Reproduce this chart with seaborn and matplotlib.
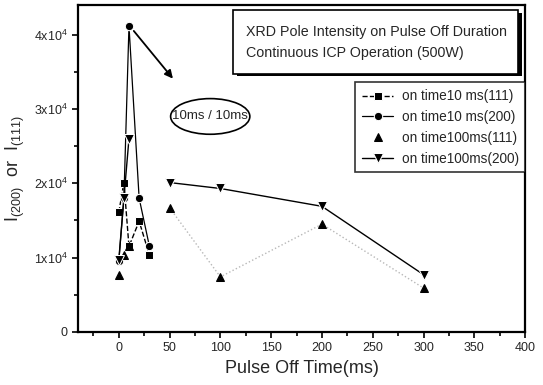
import matplotlib
matplotlib.use('Agg')
import matplotlib.pyplot as plt
import pandas as pd
import seaborn as sns
from matplotlib.patches import Ellipse, Rectangle

# pulse off time (ms) and pole intensities
off_10_111 = [0, 5, 10, 20, 30]
int_10_111 = [16100, 20100, 11500, 14900, 10400]

off_10_200 = [0, 5, 10, 20, 30]
int_10_200 = [9500, 18000, 41200, 18000, 11600]

# 100 ms on-time: short-off part and long-off part (drawn as two pieces)
off_100_111_a = [0, 5, 10]
int_100_111_a = [7700, 10400, 11500]
off_100_111_b = [50, 100, 200, 300]
int_100_111_b = [16700, 7400, 14500, 5900]

off_100_200_a = [0, 5, 10]
int_100_200_a = [9700, 18000, 26000]
off_100_200_b = [50, 100, 200, 300]
int_100_200_b = [20100, 19300, 16900, 7700]

labels = ['on time10 ms(111)', 'on time10 ms(200)',
          'on time100ms(111)', 'on time100ms(200)']
x_ticks = [0, 50, 100, 150, 200, 250, 300, 350, 400]
y_ticks = [0, 10000, 20000, 30000, 40000]
y_ticklabels = ['0', r'1x10$^4$', r'2x10$^4$', r'3x10$^4$', r'4x10$^4$']

sns.set_theme(style='white')
plt.rcParams['font.family'] = ['Liberation Sans', 'DejaVu Sans']
plt.rcParams['mathtext.default'] = 'regular'

fig = plt.figure(figsize=(5.43, 3.85), dpi=100)
ax = fig.add_axes([0.144, 0.138, 0.823, 0.849])

df1 = pd.DataFrame({'x': off_10_111, 'y': int_10_111})
df2 = pd.DataFrame({'x': off_10_200, 'y': int_10_200})
df3a = pd.DataFrame({'x': off_100_111_a, 'y': int_100_111_a})
df3b = pd.DataFrame({'x': off_100_111_b, 'y': int_100_111_b})
df4a = pd.DataFrame({'x': off_100_200_a, 'y': int_100_200_a})
df4b = pd.DataFrame({'x': off_100_200_b, 'y': int_100_200_b})

sns.lineplot(data=df1, x='x', y='y', ax=ax, sort=False, color='black',
             linestyle='--', lw=1.0, marker='s', markersize=6, label=labels[0])
sns.lineplot(data=df2, x='x', y='y', ax=ax, sort=False, color='black',
             lw=0.9, marker='o', markersize=6, label=labels[1])
tri = dict(sort=False, color='#b8b8b8', linestyle=':', lw=1.0, marker='^',
           markersize=6, markerfacecolor='black', markeredgecolor='black')
sns.lineplot(data=df3a, x='x', y='y', ax=ax, label=labels[2], **tri)
sns.lineplot(data=df3b, x='x', y='y', ax=ax, **tri)
sns.lineplot(data=df4a, x='x', y='y', ax=ax, sort=False, color='black',
             lw=1.0, marker='v', markersize=7, label=labels[3])
sns.lineplot(data=df4b, x='x', y='y', ax=ax, sort=False, color='black',
             lw=1.0, marker='v', markersize=7)

ax.set_xlim(-40, 400)
ax.set_ylim(0, 44000)
ax.set_xticks(x_ticks)
ax.set_xticks(range(-25, 400, 25), minor=True)
ax.set_yticks(y_ticks)
ax.set_yticklabels(y_ticklabels)
ax.set_yticks(range(5000, 44000, 10000), minor=True)
ax.tick_params(which='both', direction='out', color='black', width=1.2,
               labelsize=9, bottom=True, left=True)
ax.tick_params(which='major', length=4)
ax.tick_params(which='minor', length=3)
for sp in ax.spines.values():
    sp.set_color('black')
    sp.set_linewidth(1.6)

ax.set_xlabel('Pulse Off Time(ms)', fontsize=13)
ax.set_ylabel(r'$I_{(200)}$  or  $I_{(111)}$', fontsize=13, labelpad=5)

# legend
h, l = ax.get_legend_handles_labels()
h[2].set_linestyle('none')
leg = ax.legend(h, l, loc='upper left', bbox_to_anchor=(0.62, 0.763),
                fontsize=9.8, frameon=True, fancybox=False, handlelength=2.3,
                borderpad=0.5, borderaxespad=0, labelspacing=0.5,
                handletextpad=0.6)
leg.get_frame().set_edgecolor('black')
leg.get_frame().set_linewidth(1.2)

# title box with a drop shadow
ax.add_patch(Rectangle((0.355, 0.782), 0.637, 0.195, transform=ax.transAxes,
                       fc='black', ec='none', zorder=5))
ax.add_patch(Rectangle((0.347, 0.79), 0.637, 0.195, transform=ax.transAxes,
                       fc='white', ec='black', lw=1.2, zorder=6))
ax.text(0.667, 0.886, 'XRD Pole Intensity on Pulse Off Duration\nContinuous ICP Operation (500W)',
        transform=ax.transAxes, fontsize=10.3, ha='center', va='center',
        multialignment='left', linespacing=1.6, zorder=7)

# ellipse note and arrow
ax.add_patch(Ellipse((90, 29000), 78, 4800, fc='white', ec='black', lw=1.2))
ax.text(90, 29000, '10ms / 10ms', ha='center', va='center', fontsize=9.5)
ax.annotate('', xy=(55, 33800), xytext=(13, 40800),
            arrowprops=dict(arrowstyle='-|>', color='black', lw=1.3))

fig.savefig('out.png', dpi=100)
